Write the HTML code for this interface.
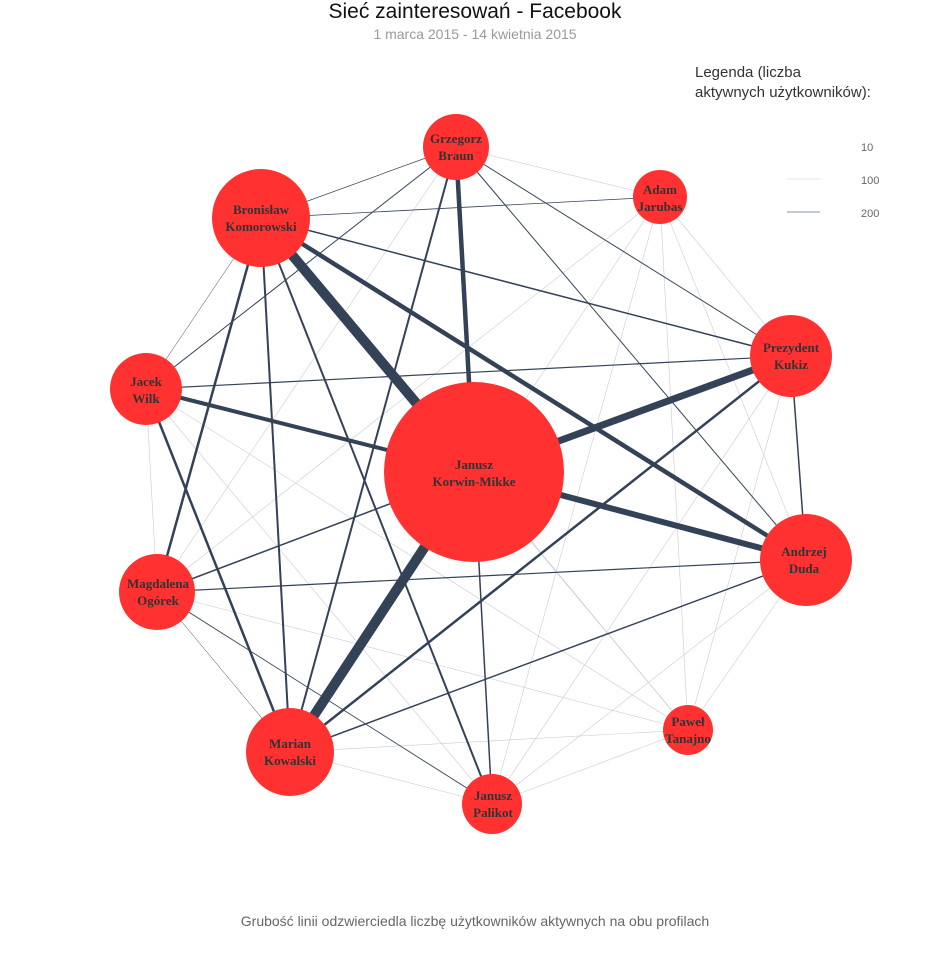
<!DOCTYPE html>
<html><head><meta charset="utf-8"><style>
html,body{margin:0;padding:0;background:#fff;}
</style></head><body>
<svg width="950" height="950" viewBox="0 0 950 950" xmlns="http://www.w3.org/2000/svg">
<text x="475" y="18" text-anchor="middle" font-family="Liberation Sans, sans-serif" font-size="21" fill="#111">Sieć zainteresowań - Facebook</text>
<text x="475" y="39" text-anchor="middle" font-family="Liberation Sans, sans-serif" font-size="14" fill="#999">1 marca 2015 - 14 kwietnia 2015</text>
<text x="695" y="77" font-family="Liberation Sans, sans-serif" font-size="15" fill="#333">Legenda (liczba</text>
<text x="695" y="97" font-family="Liberation Sans, sans-serif" font-size="15" fill="#333">aktywnych użytkowników):</text>
<text x="861" y="151" font-family="Liberation Sans, sans-serif" font-size="11" fill="#666">10</text>
<text x="861" y="184" font-family="Liberation Sans, sans-serif" font-size="11" fill="#666">100</text>
<text x="861" y="217" font-family="Liberation Sans, sans-serif" font-size="11" fill="#666">200</text>
<line x1="787" y1="179" x2="820" y2="179" stroke="#ccd" stroke-width="0.6"/>
<line x1="787" y1="212" x2="820" y2="212" stroke="#8a96a8" stroke-width="1"/>
<text x="475" y="926" text-anchor="middle" font-family="Liberation Sans, sans-serif" font-size="14" fill="#666">Grubość linii odzwierciedla liczbę użytkowników aktywnych na obu profilach</text>
<g stroke="#c8ccd4" stroke-width="0.6" fill="none">
<line x1="456" y1="147" x2="660" y2="197"/>
<line x1="660" y1="197" x2="492" y2="804"/>
<line x1="660" y1="197" x2="290" y2="752"/>
<line x1="660" y1="197" x2="806" y2="560"/>
<line x1="660" y1="197" x2="791" y2="356"/>
<line x1="660" y1="197" x2="688" y2="730"/>
<line x1="660" y1="197" x2="157" y2="592"/>
<line x1="146" y1="389" x2="157" y2="592"/>
<line x1="146" y1="389" x2="688" y2="730"/>
<line x1="146" y1="389" x2="492" y2="804"/>
<line x1="157" y1="592" x2="688" y2="730"/>
<line x1="290" y1="752" x2="688" y2="730"/>
<line x1="290" y1="752" x2="492" y2="804"/>
<line x1="492" y1="804" x2="688" y2="730"/>
<line x1="492" y1="804" x2="806" y2="560"/>
<line x1="492" y1="804" x2="791" y2="356"/>
<line x1="806" y1="560" x2="688" y2="730"/>
<line x1="791" y1="356" x2="688" y2="730"/>
<line x1="456" y1="147" x2="492" y2="804"/>
<line x1="456" y1="147" x2="157" y2="592"/>
<line x1="474" y1="472" x2="688" y2="730"/>
<line x1="261" y1="218" x2="688" y2="730"/>
<line x1="146" y1="389" x2="806" y2="560"/>
</g>
<g stroke="#344258" fill="none" stroke-linecap="butt">
<line x1="261" y1="218" x2="474" y2="472" stroke-width="10"/>
<line x1="474" y1="472" x2="290" y2="752" stroke-width="10"/>
<line x1="474" y1="472" x2="791" y2="356" stroke-width="7"/>
<line x1="474" y1="472" x2="806" y2="560" stroke-width="6"/>
<line x1="261" y1="218" x2="806" y2="560" stroke-width="4.5"/>
<line x1="456" y1="147" x2="474" y2="472" stroke-width="4.5"/>
<line x1="146" y1="389" x2="474" y2="472" stroke-width="4"/>
<line x1="791" y1="356" x2="290" y2="752" stroke-width="2.5"/>
<line x1="261" y1="218" x2="157" y2="592" stroke-width="2.5"/>
<line x1="146" y1="389" x2="290" y2="752" stroke-width="2.5"/>
<line x1="456" y1="147" x2="290" y2="752" stroke-width="2"/>
<line x1="261" y1="218" x2="290" y2="752" stroke-width="2"/>
<line x1="261" y1="218" x2="492" y2="804" stroke-width="2"/>
<line x1="157" y1="592" x2="474" y2="472" stroke-width="1.5"/>
<line x1="290" y1="752" x2="806" y2="560" stroke-width="1.5"/>
<line x1="474" y1="472" x2="492" y2="804" stroke-width="1.5"/>
<line x1="791" y1="356" x2="806" y2="560" stroke-width="1.5"/>
<line x1="146" y1="389" x2="791" y2="356" stroke-width="1.2"/>
<line x1="157" y1="592" x2="806" y2="560" stroke-width="1.2"/>
<line x1="261" y1="218" x2="791" y2="356" stroke-width="1.5"/>
<line x1="456" y1="147" x2="806" y2="560" stroke-width="1"/>
<line x1="456" y1="147" x2="791" y2="356" stroke-width="1"/>
<line x1="261" y1="218" x2="660" y2="197" stroke-width="0.8"/>
<line x1="456" y1="147" x2="261" y2="218" stroke-width="0.7"/>
<line x1="456" y1="147" x2="146" y2="389" stroke-width="1"/>
<line x1="261" y1="218" x2="146" y2="389" stroke-width="0.5"/>
<line x1="157" y1="592" x2="492" y2="804" stroke-width="0.9"/>
<line x1="157" y1="592" x2="290" y2="752" stroke-width="0.5"/>
</g>
<g fill="#ff3131">
<circle cx="456" cy="147" r="33"/>
<circle cx="660" cy="197" r="27"/>
<circle cx="261" cy="218" r="49"/>
<circle cx="791" cy="356" r="41"/>
<circle cx="146" cy="389" r="36"/>
<circle cx="474" cy="472" r="90"/>
<circle cx="806" cy="560" r="46"/>
<circle cx="157" cy="592" r="38"/>
<circle cx="688" cy="730" r="25"/>
<circle cx="290" cy="752" r="44"/>
<circle cx="492" cy="804" r="30"/>
</g>
<g font-family="Liberation Serif, serif" font-weight="bold" font-size="13" fill="#333" text-anchor="middle">
<text x="456" y="143">Grzegorz</text><text x="456" y="160">Braun</text>
<text x="660" y="194">Adam</text><text x="660" y="211">Jarubas</text>
<text x="261" y="214">Bronisław</text><text x="261" y="231">Komorowski</text>
<text x="791" y="352">Prezydent</text><text x="791" y="369">Kukiz</text>
<text x="146" y="386">Jacek</text><text x="146" y="403">Wilk</text>
<text x="474" y="469">Janusz</text><text x="474" y="486">Korwin-Mikke</text>
<text x="804" y="556">Andrzej</text><text x="804" y="573">Duda</text>
<text x="158" y="588">Magdalena</text><text x="158" y="605">Ogórek</text>
<text x="688" y="726">Paweł</text><text x="688" y="743">Tanajno</text>
<text x="290" y="748">Marian</text><text x="290" y="765">Kowalski</text>
<text x="493" y="800">Janusz</text><text x="493" y="817">Palikot</text>
</g>
</svg>
</body></html>
